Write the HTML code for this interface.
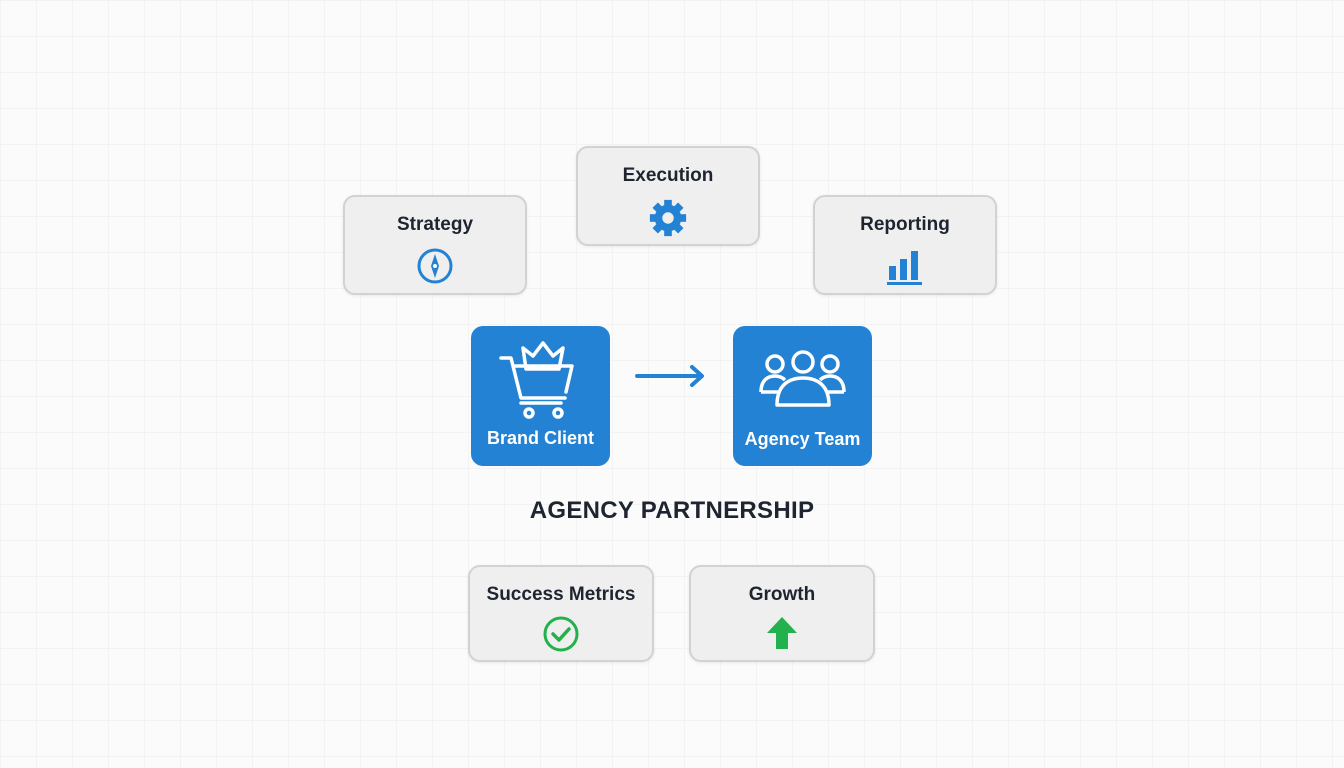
<!DOCTYPE html>
<html><head><style>
body{margin:0;width:1344px;height:768px;background:#fbfbfb;position:relative;overflow:hidden;font-family:"Liberation Sans",sans-serif;
background-image:linear-gradient(#f3f3f3 1px,transparent 1px),linear-gradient(90deg,#f3f3f3 1px,transparent 1px);background-size:36px 36px;}
.b{position:absolute;background:#efefef;border:2px solid #d2d2d2;border-radius:12px;box-sizing:border-box;text-align:center;color:#1f2530;font-weight:bold;font-size:19px;box-shadow:0 1px 3px rgba(0,0,0,.08)}
.b .t{position:absolute;left:0;right:0;top:17px}
.b svg{position:absolute;left:50%;transform:translateX(-50%)}
.m{position:absolute;background:#2382d3;border-radius:12px;color:#fff;text-align:center;font-size:18px;font-weight:bold}
</style></head><body>
<div class="b" style="left:343px;top:195px;width:184px;height:100px"><div class="t">Strategy</div>
<svg style="top:50px" width="38" height="38" viewBox="0 0 38 38"><circle cx="19" cy="19" r="16" fill="none" stroke="#2382d3" stroke-width="3"/><path d="M19 7 L23 19 L19 31 L15 19Z" fill="#2382d3"/><circle cx="19" cy="19" r="2" fill="#fff"/></svg></div>
<div class="b" style="left:576px;top:146px;width:184px;height:100px"><div class="t">Execution</div>
<svg style="top:50px" width="40" height="40" viewBox="0 0 42 42"><g fill="#2382d3" transform="translate(21 21)"><circle r="14"/><rect x="-4" y="-19" width="8" height="38"/><rect x="-4" y="-19" width="8" height="38" transform="rotate(45)"/><rect x="-4" y="-19" width="8" height="38" transform="rotate(90)"/><rect x="-4" y="-19" width="8" height="38" transform="rotate(135)"/></g><circle cx="21" cy="21" r="6" fill="#efefef"/></svg></div>
<div class="b" style="left:813px;top:195px;width:184px;height:100px"><div class="t">Reporting</div>
<svg style="top:50px" width="40" height="40" viewBox="0 0 40 40"><g fill="#2382d3"><rect x="4" y="19" width="7" height="14"/><rect x="15" y="12" width="7" height="21"/><rect x="26" y="4" width="7" height="29"/><rect x="2" y="35" width="35" height="3"/></g></svg></div>
<div class="m" style="left:471px;top:326px;width:139px;height:140px">
<svg style="position:absolute;left:0;top:0" width="139" height="100" viewBox="0 0 139 100" fill="none" stroke="#fff" stroke-width="3.5" stroke-linejoin="round" stroke-linecap="round"><path d="M30 32 L40 32 L50 72 L94 72"/><path d="M44 40 L101 40 L95 66"/><path d="M55 43 L52 22 L62 30 L72 17 L82 30 L92 22 L88 43 Z"/><circle cx="58" cy="87" r="4"/><circle cx="87" cy="87" r="4"/><path d="M50 77 H90"/></svg>
<div style="position:absolute;left:0;right:0;top:102px">Brand Client</div></div>
<svg style="position:absolute;left:634px;top:362px" width="74" height="30"><path d="M3 14 H66" stroke="#2382d3" stroke-width="4" stroke-linecap="round"/><path d="M58 5 L68 14 L58 23" fill="none" stroke="#2382d3" stroke-width="4" stroke-linecap="round" stroke-linejoin="round"/></svg>
<div class="m" style="left:733px;top:326px;width:139px;height:140px">
<svg style="position:absolute;left:25px;top:22px" width="90" height="62" viewBox="0 0 90 62" fill="none" stroke="#fff" stroke-width="3.5" stroke-linejoin="round"><circle cx="17" cy="16" r="8"/><circle cx="72" cy="16" r="8"/><path d="M3 44 C3 32 10 28 17 28 C22 28 25 30 27 32"/><path d="M86 44 C86 32 79 28 72 28 C67 28 64 30 62 32"/><path d="M3 44 H20"/><path d="M86 44 H70"/><circle cx="45" cy="14" r="10"/><path d="M19 57 C19 38 30 30 45 30 C60 30 71 38 71 57 Z"/></svg>
<div style="position:absolute;left:0;right:0;top:103px">Agency Team</div></div>
<div style="position:absolute;left:472px;width:400px;top:497px;text-align:center;font-size:24px;font-weight:bold;color:#1f2530;letter-spacing:0.3px">AGENCY PARTNERSHIP</div>
<div class="b" style="left:468px;top:565px;width:186px;height:97px"><div class="t">Success Metrics</div>
<svg style="top:48px" width="38" height="38" viewBox="0 0 38 38"><circle cx="19" cy="19" r="16" fill="none" stroke="#23b14d" stroke-width="3"/><path d="M11 19 L17 25 L27 14" fill="none" stroke="#23b14d" stroke-width="3.5" stroke-linecap="round" stroke-linejoin="round"/></svg></div>
<div class="b" style="left:689px;top:565px;width:186px;height:97px"><div class="t">Growth</div>
<svg style="top:48px" width="34" height="36" viewBox="0 0 34 36"><path d="M17 2 L32 18 L23 18 L23 34 L11 34 L11 18 L2 18Z" fill="#23b14d"/></svg></div>
</body></html>
